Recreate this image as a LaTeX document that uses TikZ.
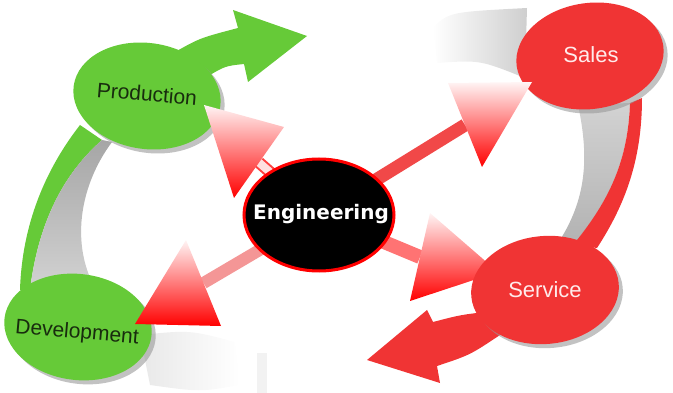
\documentclass[tikz,border=0pt]{standalone}
\usepackage{fontspec}
\setmainfont{Liberation Sans}
\newfontfamily\engfont{DejaVu Sans}
\usepackage{tikz}
\usetikzlibrary{calc,shapes.geometric,shadows}
\definecolor{leafgreen}{RGB}{102,202,56}
\definecolor{darkleaf}{RGB}{24,44,14}
\definecolor{cyclered}{RGB}{240,52,52}
\definecolor{pinkred}{RGB}{244,150,150}

\tikzset{
  bubble/.style={ellipse, inner sep=0pt, minimum width=148pt, minimum height=106pt,
    drop shadow={shadow xshift=4pt, shadow yshift=-4pt, fill=gray!80, opacity=0.6}},
  greenbubble/.style={bubble, fill=leafgreen},
  redbubble/.style={bubble, fill=cyclered},
  greentext/.style={text=darkleaf, font=\fontsize{21}{21}\selectfont},
  redtext/.style={text=red!8, font=\fontsize{22}{22}\selectfont},
  headfill/.style={top color=red!4, bottom color=red},
}

\begin{document}
\begin{tikzpicture}[x=1pt,y=-1pt]
\useasboundingbox (0,0) rectangle (673,393);
\shade[left color=white, right color=gray!38] (433,27) .. controls (450,12) .. (527,8) -- (525,78) .. controls (480,60) .. (437,63) -- cycle;
\shade[left color=gray!18, right color=white] (140,335) .. controls (190,330) .. (235,342) -- (240,385) .. controls (200,392) .. (150,385) -- cycle;
\fill[gray!10] (257,353) rectangle (267,393);
\fill[leafgreen] (80,125) .. controls (45,170) and (22,225) .. (20,290) -- (30,290) .. controls (38,225) and (62,175) .. (102,140) -- cycle;
\shade[top color=gray!70, bottom color=gray!35] (102,140) .. controls (62,175) and (38,225) .. (30,290) -- (92,282) .. controls (72,240) and (80,185) .. (112,142) -- cycle;
\fill[leafgreen] (175,52) .. controls (200,38) .. (238,28) -- (233,10) -- (307,36) -- (248,82) -- (244,64) .. controls (225,66) .. (205,78) -- cycle;
\shade[top color=gray!35, bottom color=gray!60] (578,105) .. controls (590,160) and (585,200) .. (560,240) -- (575,243) .. controls (610,200) and (628,160) .. (630,103) -- cycle;
\fill[cyclered] (630,103) .. controls (628,160) and (610,200) .. (573,245) -- (597,248) .. controls (625,205) and (642,160) .. (642,98) -- cycle;
\fill[cyclered] (485,312) .. controls (460,315) .. (433,322) -- (427,310) -- (367,360) -- (440,383) -- (437,366) .. controls (470,355) .. (500,335) -- cycle;
\node[greenbubble, rotate=-8] (prod) at (147,96) {};
\node[greentext, rotate=-5] (prodtext) at (147,94) {Production};
\node[greenbubble, rotate=-7] (dev) at (78,327) {};
\node[greentext, rotate=-5] (devtext) at (77,333) {Development};
\node[redbubble, rotate=8] (sales) at (590,56) {};
\node[redtext] (salestext) at (591,55) {Sales};
\coordinate (engc) at (319,215);
\coordinate (ptip) at (204,105);
\coordinate (pa) at (284,127);
\coordinate (pb) at (234,198);
\coordinate (stip) at (532,82);
\coordinate (sa) at (448,83);
\coordinate (sb) at (482,167);
\coordinate (dtip) at (135,324);
\coordinate (da) at (186,240);
\coordinate (db) at (221,326);
\coordinate (vtip) at (498,272);
\coordinate (va) at (430,213);
\coordinate (vb) at (410,301);
\draw[draw=red!75, double=red!12, double distance=8pt, line width=2pt] (engc) -- ($(pa)!0.5!(pb)$);
\draw[cyclered!90, line width=13pt] (engc) -- ($(sa)!0.5!(sb)$);
\draw[pinkred, line width=12pt] (engc) -- ($(da)!0.5!(db)$);
\draw[red!55, line width=14pt] (engc) -- ($(va)!0.5!(vb)$);
\shade[headfill] (ptip) -- (pa) -- (pb) -- cycle;
\shade[headfill] (stip) -- (sa) -- (sb) -- cycle;
\shade[headfill] (dtip) -- (da) -- (db) -- cycle;
\shade[headfill] (vtip) -- (va) -- (vb) -- cycle;
\node[redbubble, rotate=5, minimum height=108pt] (serv) at (545,290) {};
\node[redtext] (servtext) at (545,290) {Service};
\node[ellipse, draw=red, line width=3pt, fill=black, inner sep=0pt, minimum width=150pt, minimum height=112pt] (eng) at (engc) {};
\node[text=white, font=\engfont\bfseries\fontsize{20}{20}\selectfont] (engtext) at (321,214) {Engineering};
\end{tikzpicture}
\end{document}
